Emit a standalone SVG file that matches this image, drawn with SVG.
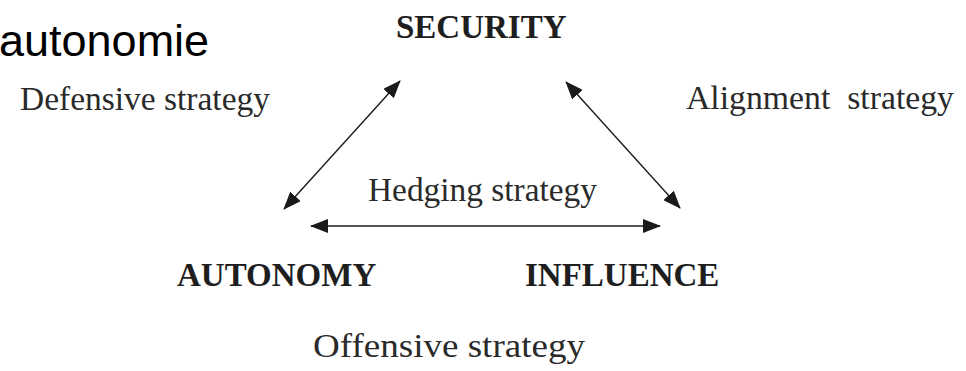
<svg xmlns="http://www.w3.org/2000/svg" width="966" height="371" viewBox="0 0 966 371">
<defs>
<marker id="ah" viewBox="0 0 18 14" markerWidth="18" markerHeight="14" refX="17" refY="7" orient="auto-start-reverse" markerUnits="userSpaceOnUse">
<path d="M0,0 L18,7 L0,14 z" fill="#1a1a1a"/>
</marker>
</defs>
<style>
.node{font-family:"Liberation Serif","Times New Roman",serif;font-weight:bold;font-size:33px;fill:#1e1e1e}
.lbl{font-family:"Liberation Serif","Times New Roman",serif;font-size:33px;fill:#2a2a2a}
.conn{stroke:#1e1e1e;stroke-width:1.4;fill:none;marker-start:url(#ah);marker-end:url(#ah)}
</style>
<rect width="966" height="371" fill="#ffffff"/>
<text x="-1" y="56" font-family="'Liberation Sans',Arial,sans-serif" font-size="45" fill="#000">autonomie</text>
<g id="security"><text class="node" x="396" y="38">SECURITY</text></g>
<g id="autonomy"><text class="node" x="177" y="286">AUTONOMY</text></g>
<g id="influence"><text class="node" x="525" y="286">INFLUENCE</text></g>
<g id="labels">
<text class="lbl" x="20" y="110" textLength="250" lengthAdjust="spacingAndGlyphs">Defensive strategy</text>
<text class="lbl" x="686" y="109" xml:space="preserve" textLength="268" lengthAdjust="spacingAndGlyphs">Alignment  strategy</text>
<text class="lbl" x="368" y="201" textLength="229" lengthAdjust="spacingAndGlyphs">Hedging strategy</text>
<text class="lbl" x="313" y="357" font-size="37" textLength="272" lengthAdjust="spacingAndGlyphs">Offensive strategy</text>
</g>
<g id="connectors">
<line class="conn" x1="284" y1="209" x2="400" y2="81"/>
<line class="conn" x1="566" y1="82" x2="680" y2="208"/>
<line class="conn" x1="311" y1="226" x2="660" y2="226"/>
</g>
</svg>
